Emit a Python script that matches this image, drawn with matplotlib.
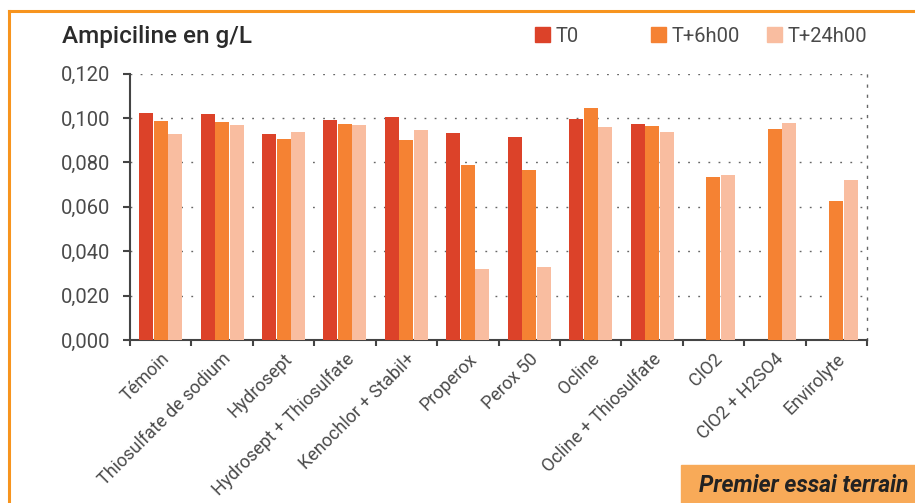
import numpy as np
import matplotlib
matplotlib.use("Agg")
import matplotlib.pyplot as plt
from matplotlib.patches import Rectangle

plt.rcParams['font.family'] = ['Roboto', 'DejaVu Sans']

categories = ['Témoin', 'Thiosulfate de sodium', 'Hydrosept', 'Hydrosept + Thiosulfate',
              'Kenochlor + Stabil+', 'Properox', 'Perox 50', 'Ocline',
              'Ocline + Thiosulfate', 'ClO2', 'ClO2 + H2SO4', 'Envirolyte']
series = ['T0', 'T+6h00', 'T+24h00']
t0 = [0.1020, 0.1016, 0.0926, 0.0991, 0.1002, 0.0931, 0.0913, 0.0995, 0.0972, np.nan, np.nan, np.nan]
t6 = [0.0984, 0.0980, 0.0904, 0.0973, 0.0902, 0.0788, 0.0766, 0.1045, 0.0963, 0.0733, 0.0950, 0.0625]
t24 = [0.0926, 0.0966, 0.0935, 0.0968, 0.0946, 0.0318, 0.0327, 0.0958, 0.0935, 0.0743, 0.0977, 0.0721]
colors = ['#DC4229', '#F58233', '#F9BDA0']

W, H = 915, 503
fig = plt.figure(figsize=(W / 100, H / 100), dpi=100)
ax = fig.add_axes([130 / W, 1 - 340 / H, 737 / W, 266.5 / H])

x = np.arange(len(categories))
bw = 0.228
for i, (vals, c) in enumerate(zip([t0, t6, t24], colors)):
    ax.bar(x + (i - 1) * (bw + 0.008), vals, width=bw, color=c, zorder=3)

ax.set_xlim(-0.5, len(categories) - 0.5)
ax.set_ylim(0, 0.120)
yt = np.arange(0, 0.121, 0.02)
ax.set_yticks(yt)
ax.set_yticklabels([f"{v:.3f}".replace('.', ',') for v in yt], fontsize=14.5, color='#4a4a4a')
ax.set_xticks(x)
ax.set_xticklabels(categories, rotation=45, ha='right', va='top', rotation_mode='anchor',
                   fontsize=13, color='#4a4a4a')
ax.tick_params(axis='x', which='major', length=0, pad=7)
ax.set_xticks(np.arange(-0.5, len(categories)), minor=True)
ax.tick_params(axis='x', which='minor', length=4, width=1.5, color='#444444', direction='out')
ax.tick_params(axis='y', length=5, width=1.5, color='#444444', direction='out', pad=9)

# dotted grid
ax.yaxis.grid(True, linestyle=(0, (1.3, 6)), color='#666666', linewidth=1.0, zorder=0)
ax.set_axisbelow(True)
for s in ['left', 'bottom']:
    ax.spines[s].set_color('#444444')
    ax.spines[s].set_linewidth(1.5)
ax.spines['top'].set_visible(False)
ax.spines['right'].set_linestyle((0, (1.3, 6)))
ax.spines['right'].set_color('#666666')
ax.spines['right'].set_linewidth(1.0)

# title
fig.text(62 / W, 1 - 43 / H, 'Ampiciline en g/L', fontsize=17.5, fontweight='medium',
         color='#2b2b2b', va='baseline', ha='left')

# legend
leg_x = [535, 651, 767]
for lx, name, c in zip(leg_x, series, colors):
    fig.patches.append(Rectangle((lx / W, 1 - 42 / H), 15 / W, 15 / H, color=c,
                                 transform=fig.transFigure, figure=fig))
    fig.text((lx + 21) / W, 1 - 42 / H, name, fontsize=14.5, color='#4a4a4a',
             va='baseline', ha='left')

# frame
fig.add_artist(plt.Line2D([9 / W, 1], [1 - 11 / H, 1 - 11 / H], color='#F7941E',
                          linewidth=2.2, transform=fig.transFigure))
fig.add_artist(plt.Line2D([9 / W, 9 / W], [0, 1 - 11 / H], color='#F7941E',
                          linewidth=2.2, transform=fig.transFigure))

# tag box
fig.patches.append(Rectangle((681 / W, 0), 1 - 681 / W, 38 / H, color='#F8AA58',
                             transform=fig.transFigure, figure=fig))
fig.text(908 / W, 1 - 485 / H, 'Premier essai terrain', fontsize=16.5, fontweight='bold',
         fontstyle='italic', color='#222222', ha='right', va='center')

fig.savefig('out.png', dpi=100)
